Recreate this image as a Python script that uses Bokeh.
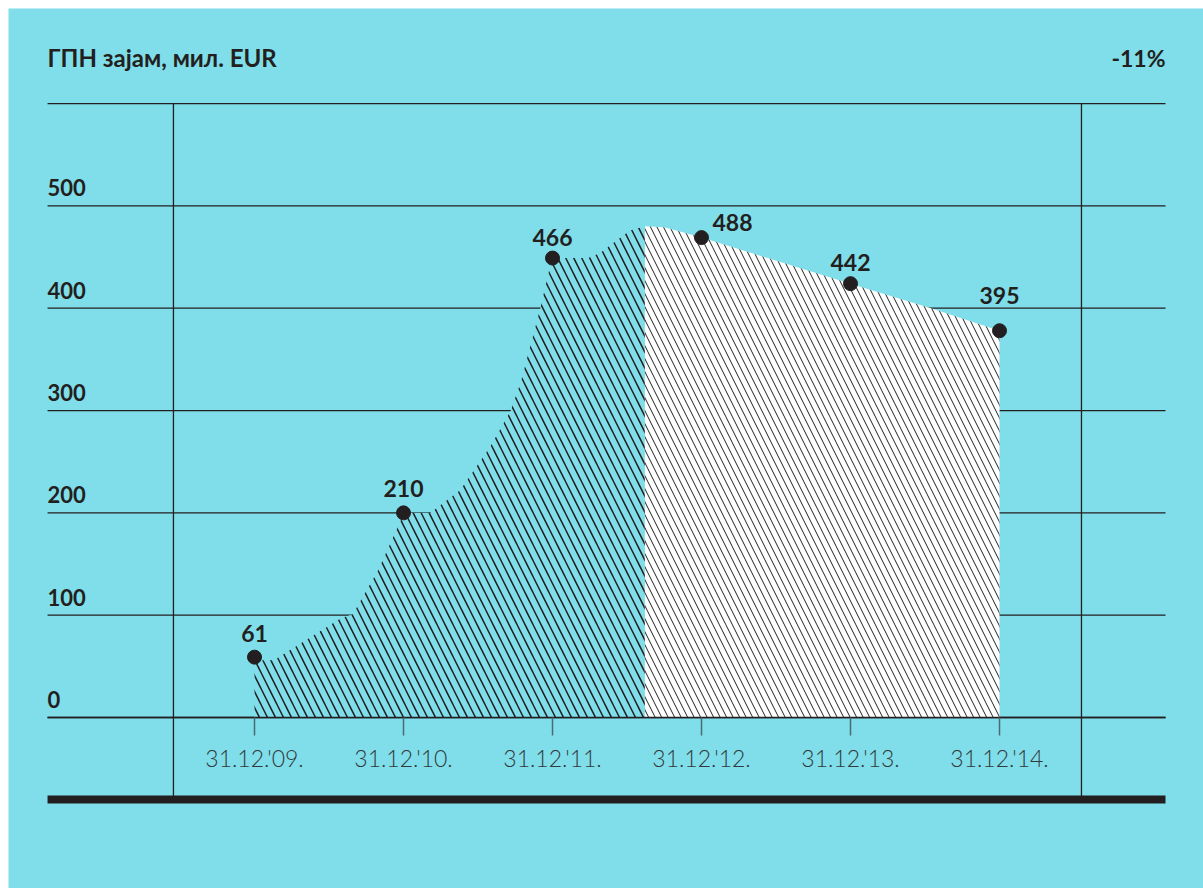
from bokeh.plotting import figure
from bokeh.models import Range1d
from bokeh.core.properties import value
from bokeh.embed import file_html
from bokeh.resources import INLINE

# ---------------- data ----------------
dates = ["31.12.'09.", "31.12.'10.", "31.12.'11.", "31.12.'12.", "31.12.'13.", "31.12.'14."]
labels = [61, 210, 466, 488, 442, 395]            # printed values
dot_y = [59, 200, 449, 469, 424, 378]             # dot heights as drawn in the picture
yticks = [0, 100, 200, 300, 400, 500, 600]
ytick_labels = ["0", "100", "200", "300", "400", "500", ""]

# hatched area outline (x in date-index units, y in mil. EUR)
left_x = [0, 0.13, 0.36, 0.58, 0.66, 0.83, 0.98, 1.0, 1.18, 1.38, 1.58, 1.72, 1.79, 1.92, 1.99, 2.0,
          2.24, 2.32, 2.41, 2.52, 2.62]
left_y = [56, 56, 77, 97, 101, 144, 192, 200, 200, 222, 264, 300, 329, 401, 445, 449,
          449, 454, 464, 476, 480]
right_x = [2.62, 2.75, 2.88, 3.0, 4.0, 4.54, 5.0]
right_y = [480, 479, 474, 469, 424, 400, 378]

title = "ГПН зајам, мил. EUR"
change = "-11%"

# ---------------- style ----------------
BG = "#7fdee9"
INK = "#231f20"
FONT = "Lato"

X0, X1 = -1.389, 6.114      # horizontal extent of rules
VLINES = [-0.544, 5.550]

p = figure(width=1203, height=888, output_backend="svg", toolbar_location=None,
           x_range=Range1d(-1.651, 6.369), y_range=Range1d(-167.1, 692.9),
           min_border_left=8, min_border_top=8, min_border_right=0, min_border_bottom=0,
           outline_line_color=None)
p.background_fill_color = BG
p.border_fill_color = "white"
p.axis.visible = False
p.grid.visible = False

# horizontal rules
p.segment(x0=[X0] * len(yticks), x1=[X1] * len(yticks), y0=yticks, y1=yticks,
          line_color=INK, line_width=1.3)

# areas
p.varea(x=left_x, y1=[0] * len(left_x), y2=left_y, fill_color=BG,
        hatch_pattern="left_diagonal_line", hatch_color=INK, hatch_scale=16, hatch_weight=1.5)
p.varea(x=right_x, y1=[0] * len(right_x), y2=right_y, fill_color="white",
        hatch_pattern="left_diagonal_line", hatch_color=INK, hatch_scale=13, hatch_weight=1.0)

# baseline again on top of area edge
p.segment(x0=[X0], x1=[X1], y0=[0], y1=[0], line_color=INK, line_width=1.3)

# vertical rules
p.segment(x0=VLINES, x1=VLINES, y0=[600, 600], y1=[-78, -78], line_color=INK, line_width=1.3)

# bottom thick bar
p.segment(x0=[X0], x1=[X1], y0=[-80.1], y1=[-80.1], line_color=INK, line_width=8, line_cap="butt")

# ticks
xs = list(range(len(dates)))
p.segment(x0=xs, x1=xs, y0=[0] * len(xs), y1=[-17.6] * len(xs), line_color="#4a6b71", line_width=1.5)

# tick labels
p.text(x=xs, y=[-39.1] * len(xs), text=dates, text_align="center", text_baseline="middle",
       text_font=value("Lato Light"), text_font_size="23px", text_color="#33393b")

# y labels
p.text(x=[X0] * len(yticks), y=yticks, text=ytick_labels, text_align="left",
       text_baseline="alphabetic", y_offset=-18,
       text_font=value(FONT), text_font_style="bold", text_font_size="22px", text_color=INK)

# dots
p.scatter(x=xs, y=dot_y, size=14, color=INK)

# value labels
dx = [0, 0, 0, 11, 0, 0]
dy = [-24, -24, -21, -15, -21, -35]
aligns = ["center", "center", "center", "left", "center", "center"]
p.text(x=xs, y=dot_y, text=[str(v) for v in labels], x_offset=dx, y_offset=dy,
       text_align=aligns, text_baseline="middle",
       text_font=value(FONT), text_font_style="bold", text_font_size="23px", text_color=INK)

# title and change
p.text(x=[X0], y=[645], text=[title], text_align="left", text_baseline="middle",
       text_font=value(FONT), text_font_style="bold", text_font_size="24px", text_color=INK)
p.text(x=[X1], y=[645], text=[change], text_align="right", text_baseline="middle",
       text_font=value(FONT), text_font_style="bold", text_font_size="23px", text_color=INK)

open("out.html", "w").write(file_html(p, INLINE))
